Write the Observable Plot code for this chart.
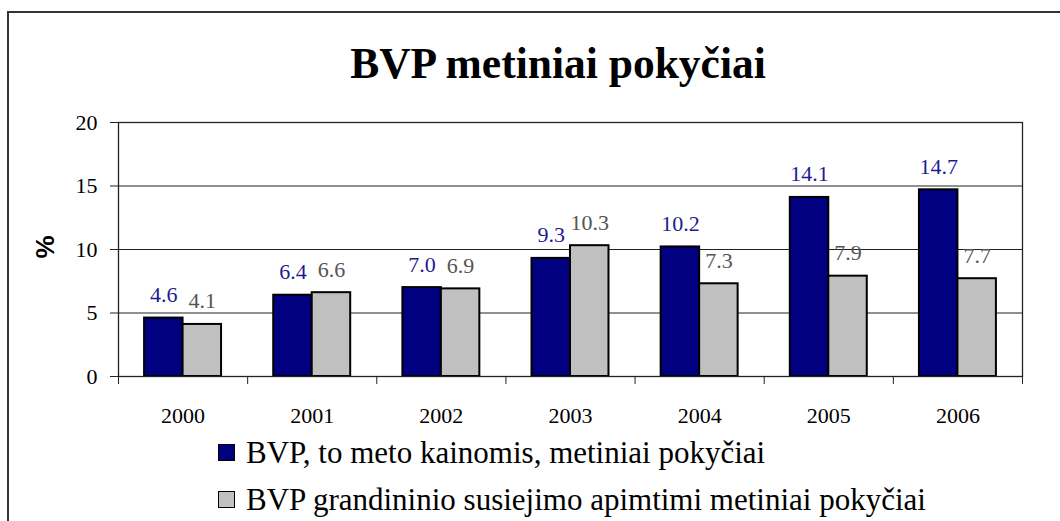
<!DOCTYPE html>
<html>
<head>
<meta charset="utf-8">
<script src="https://cdn.jsdelivr.net/npm/d3@7"></script>
<script src="https://cdn.jsdelivr.net/npm/@observablehq/plot@0.6"></script>
<style>
  html, body { margin: 0; padding: 0; background: #fff; overflow: hidden; }
  #wrap { position: relative; width: 1060px; height: 521px; overflow: hidden; font-family: "Liberation Serif", serif; }
  #border { position: absolute; left: 7px; top: 11px; width: 1100px; height: 600px; border-left: 2px solid #333; border-top: 2px solid #333; }
  #title { position: absolute; left: 558px; top: 42px; transform: translateX(-50%); font-family: "Liberation Serif", serif; font-size: 43.5px; line-height: 43.5px; font-weight: bold; white-space: nowrap; color: #000; }
  #ylabel { position: absolute; left: 45px; top: 247px; transform: translate(-50%, -50%) rotate(-90deg); font-family: "Liberation Sans", sans-serif; font-weight: bold; font-size: 26px; line-height: 26px; color: #000; }
  #chart { position: absolute; left: 0; top: 0; }
  .leg { position: absolute; left: 218px; height: 31px; display: flex; align-items: center; white-space: nowrap; font-family: "Liberation Serif", serif; font-size: 31px; line-height: 31px; color: #000; }
  .sw { width: 15px; height: 15px; border: 1.5px solid #000; margin-right: 11px; }
</style>
</head>
<body>
<div id="wrap">
  <div id="border"></div>
  <div id="chart"></div>
  <div id="title">BVP metiniai pokyčiai</div>
  <div id="ylabel">%</div>
  <div id="legend"></div>
</div>
<script>
const years = ["2000", "2001", "2002", "2003", "2004", "2005", "2006"];
const currentPrices = [4.6, 6.4, 7.0, 9.3, 10.2, 14.1, 14.7];
const chainLinked = [4.1, 6.6, 6.9, 10.3, 7.3, 7.9, 7.7];
const seriesNames = ["BVP, to meto kainomis, metiniai pokyčiai", "BVP grandininio susiejimo apimtimi metiniai pokyčiai"];
const seriesColors = ["#000080", "#c0c0c0"];
const labelColors = ["#1c1c90", "#555555"];
const yTicks = [0, 5, 10, 15, 20];

const barW = 0.298;
const rows = [];
years.forEach((yr, i) => {
  rows.push({i, year: yr, s: 0, series: seriesNames[0], value: currentPrices[i], x1: i - barW, x2: i});
  rows.push({i, year: yr, s: 1, series: seriesNames[1], value: chainLinked[i], x1: i, x2: i + barW});
});

const chart = Plot.plot({
  width: 1060,
  height: 440,
  marginLeft: 118,
  marginRight: 38,
  marginTop: 122,
  marginBottom: 64,
  x: {type: "linear", domain: [-0.5, years.length - 0.5], axis: null},
  y: {domain: [0, 20], axis: null},
  color: {domain: seriesNames, range: seriesColors},
  style: {fontFamily: "Liberation Serif", fontSize: "22px", background: "transparent", color: "#000"},
  marks: [
    Plot.gridY(yTicks, {stroke: "#222", strokeOpacity: 1, strokeWidth: 1}),
    Plot.axisY(yTicks, {tickSize: 8, tickPadding: 13, tickFormat: d => String(d), fontSize: 22, label: null, stroke: "#222"}),
    Plot.axisX(d3.range(-0.5, years.length, 1), {tickSize: 8, tickFormat: () => "", label: null, stroke: "#222"}),
    Plot.axisX(d3.range(years.length), {tickSize: 0, tickPadding: 31, tickFormat: i => years[i], fontSize: 22, label: null}),
    Plot.rectY(rows, {x1: "x1", x2: "x2", y1: () => 0, y2: "value", fill: "series", stroke: "#000", strokeWidth: 2}),
    Plot.text(rows.filter(d => d.s === 0), {x: d => (d.x1 + d.x2) / 2, y: "value", text: d => d.value.toFixed(1), dy: -16, lineAnchor: "bottom", fill: labelColors[0], fontSize: 22}),
    Plot.text(rows.filter(d => d.s === 1), {x: d => (d.x1 + d.x2) / 2, y: "value", text: d => d.value.toFixed(1), dy: -16, lineAnchor: "bottom", fill: labelColors[1], fontSize: 22}),
    Plot.frame({stroke: "#222", strokeWidth: 1.3})
  ]
});
document.getElementById("chart").appendChild(chart);

const legend = document.getElementById("legend");
const legTops = [437, 484];
seriesNames.forEach((name, k) => {
  const row = document.createElement("div");
  row.className = "leg";
  row.style.top = legTops[k] + "px";
  const sw = document.createElement("div");
  sw.className = "sw";
  sw.style.background = seriesColors[k];
  const t = document.createElement("span");
  t.textContent = name;
  row.appendChild(sw);
  row.appendChild(t);
  legend.appendChild(row);
});
</script>
</body>
</html>
